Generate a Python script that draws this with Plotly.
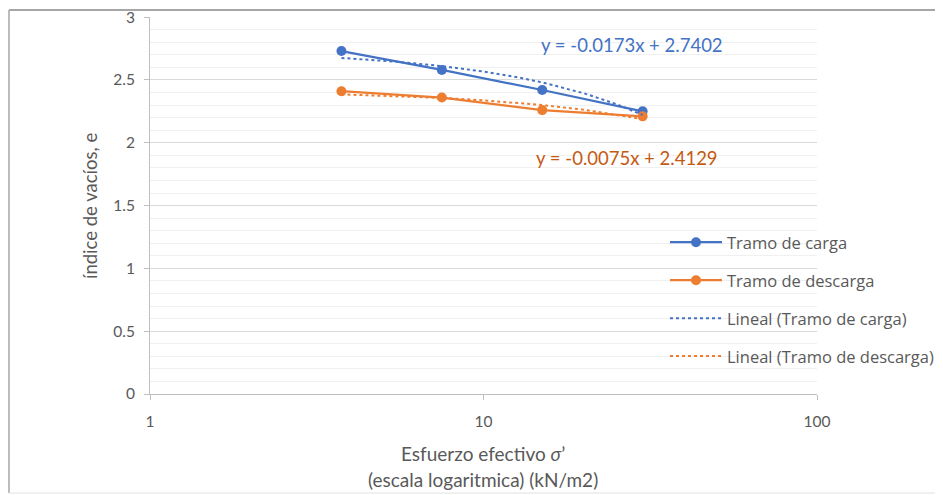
"""Curva de compresibilidad e - log(σ') con tramos de carga y descarga."""
import plotly.graph_objects as go

FONT = "Lato"
TEXT_GRAY = "#595959"
BLUE = "#4472C4"
ORANGE = "#ED7D31"

# Datos
esfuerzo = [3.75, 7.5, 15, 30]
e_carga = [2.73, 2.58, 2.42, 2.25]
e_descarga = [2.41, 2.36, 2.26, 2.21]

# Líneas de tendencia (lineales en x, curvas en escala log)
trend_x = [3.75, 4.5, 5.5, 7.5, 10, 12.5, 15, 20, 25, 30]
trend_carga = [2.675, 2.662, 2.645, 2.610, 2.567, 2.524, 2.480, 2.394, 2.308, 2.221]
trend_descarga = [2.385, 2.379, 2.372, 2.357, 2.338, 2.319, 2.300, 2.263, 2.225, 2.188]

eq_carga = "y = -0.0173x + 2.7402"
eq_descarga = "y = -0.0075x + 2.4129"

# page body adds an 8px offset; plot area on screen: x 150..817, y 17..394
OFF = 8
PL, PR, PT, PB = 150, 817, 17, 394
W, H = 943, 495


def px(x):
    return (x - PL) / (PR - PL)


def py(y):
    return (PB - y) / (PB - PT)


def label(x, y, text, size, color, angle=0):
    fig.add_annotation(x=px(x), y=py(y), xref="paper", yref="paper", text=text,
                       showarrow=False, xanchor="center", yanchor="middle",
                       textangle=angle,
                       font=dict(family=FONT, size=size, color=color))


fig = go.Figure()

fig.add_trace(go.Scatter(
    x=esfuerzo, y=e_carga, mode="lines+markers", name="Tramo de carga",
    line=dict(color=BLUE, width=2.25), marker=dict(size=10, color=BLUE),
    legendgroup="a",
))
fig.add_trace(go.Scatter(
    x=esfuerzo, y=e_descarga, mode="lines+markers", name="Tramo de descarga",
    line=dict(color=ORANGE, width=2.25), marker=dict(size=10, color=ORANGE),
    legendgroup="b",
))
fig.add_trace(go.Scatter(
    x=trend_x, y=trend_carga, mode="lines", name="Lineal (Tramo de carga)",
    line=dict(color=BLUE, width=2, dash="dot"), legendgroup="c",
))
fig.add_trace(go.Scatter(
    x=trend_x, y=trend_descarga, mode="lines", name="Lineal (Tramo de descarga)",
    line=dict(color=ORANGE, width=2, dash="dot"), legendgroup="d",
))

label(632, 45, eq_carga, 18.5, BLUE)
label(627, 158, eq_descarga, 18.5, "#C65911")

# axis titles
label(483, 453, "Esfuerzo efectivo <i>σ</i>’", 19, TEXT_GRAY)
label(483, 479, "(escala logaritmica) (kN/m2)", 19, TEXT_GRAY)
label(90, 206, "índice de vacíos, e", 18.5, TEXT_GRAY, angle=-90)

# marco exterior
fig.add_shape(type="line", xref="paper", yref="paper", x0=px(9), x1=px(950),
              y0=py(10), y1=py(10), line=dict(color="#A6A6A6", width=2))
fig.add_shape(type="line", xref="paper", yref="paper", x0=px(9), x1=px(9),
              y0=py(10), y1=py(493), line=dict(color="#A6A6A6", width=1.5))
fig.add_shape(type="line", xref="paper", yref="paper", x0=px(9), x1=px(950),
              y0=py(493), y1=py(493), line=dict(color="#EBEBEB", width=1.5))

fig.update_layout(
    width=W, height=H,
    margin=dict(l=PL - OFF, r=W - (PR - OFF), t=PT - OFF, b=H - (PB - OFF),
                autoexpand=False),
    paper_bgcolor="white", plot_bgcolor="white",
    font=dict(family=FONT, size=15, color=TEXT_GRAY),
    showlegend=True,
    legend=dict(x=px(665), y=py(225), xanchor="left", yanchor="top",
                bgcolor="rgba(0,0,0,0)", tracegroupgap=13.5,
                font=dict(family="Open Sans", size=16.5, color=TEXT_GRAY),
                itemwidth=52),
)
fig.update_xaxes(
    type="log", range=[0, 2], tickvals=[1, 10, 100], ticktext=["1", "10", "100"],
    showgrid=False, showline=True, linecolor="#BFBFBF", linewidth=1,
    ticks="outside", ticklen=5, tickcolor="#BFBFBF",
    tickfont=dict(size=15.5, color=TEXT_GRAY), ticklabeloverflow="allow",
    ticklabelstandoff=8,
    zeroline=False, automargin=False,
)
fig.update_yaxes(
    range=[0, 3.001], tickvals=[0, 0.5, 1, 1.5, 2, 2.5, 3],
    ticktext=["0", "0.5", "1", "1.5", "2", "2.5", "3"],
    showgrid=True, gridcolor="#D9D9D9", gridwidth=1,
    minor=dict(dtick=0.1, showgrid=True, gridcolor="#F0F0F0", gridwidth=1),
    showline=True, linecolor="#BFBFBF", linewidth=1,
    ticks="outside", ticklen=5, tickcolor="#BFBFBF",
    tickfont=dict(size=15.5, color=TEXT_GRAY), ticklabeloverflow="allow",
    ticklabelstandoff=6,
    zeroline=False, automargin=False,
)

fig.write_html("out.html")
